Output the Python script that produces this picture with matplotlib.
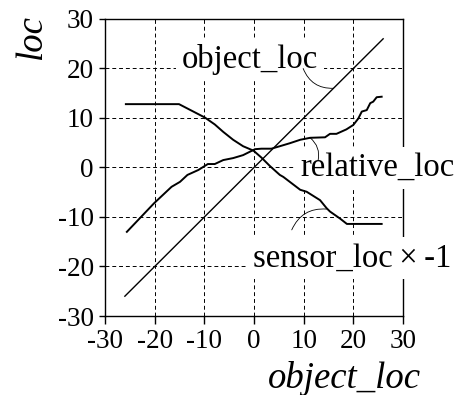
import numpy as np
import matplotlib

matplotlib.use("Agg")
import matplotlib.pyplot as plt

plt.rcParams["font.family"] = ["Liberation Serif", "DejaVu Serif"]
plt.rcParams["axes.unicode_minus"] = False

# object position sweeps linearly
object_x = [-26, 26]
object_y = [-26, 26]

# relative location (traced along object_loc)
relative_x = [-25.6, -20.1, -16.6, -14.9, -13.4, -11.2, -9.3, -7.9, -6.2, -4.2,
              -2.2, 0.2, 1.5, 3.5, 5.2, 7.2, 9.3, 11.3, 14.3, 15.3, 16.6, 18.6,
              20.0, 21.0, 21.7, 22.7, 23.4, 24.0, 24.7, 25.7]
relative_y = [-13.0, -7.2, -3.9, -2.9, -1.5, -0.5, 0.7, 0.7, 1.5, 1.9,
              2.5, 3.7, 3.8, 3.8, 4.3, 4.9, 5.6, 6.0, 6.1, 6.8, 6.8, 7.7,
              8.6, 9.9, 11.3, 11.6, 13.0, 13.3, 14.2, 14.3]

# sensor location, sign flipped
sensor_x = [-25.8, -15.1, -9.9, -7.9, -6.2, -4.2, -2.2, -0.1, 1.5, 3.2,
            5.2, 5.9, 9.3, 10.6, 13.3, 14.6, 15.3, 17.3, 18.7, 25.7]
sensor_y = [12.8, 12.8, 10.1, 8.7, 7.2, 5.6, 4.3, 3.4, 2.0, 0.3,
            -1.5, -1.9, -4.5, -4.9, -6.6, -8.2, -8.9, -10.3, -11.4, -11.4]

ticks = [-30, -20, -10, 0, 10, 20, 30]

fig = plt.figure(figsize=(4.65, 3.95), dpi=100)
ax = fig.add_axes([0.2258, 0.2, 0.6409, 0.7519])

# curves sit above the label boxes, the boxes only mask grid and frame
ax.plot(object_x, object_y, color="black", lw=1.0, zorder=3.5)
ax.plot(relative_x, relative_y, color="black", lw=1.4, zorder=3.5)
ax.plot(sensor_x, sensor_y, color="black", lw=1.4, zorder=3.5)

ax.set_xlim(-30, 30)
ax.set_ylim(-30, 30)
ax.set_xticks(ticks)
ax.set_yticks(ticks)
ax.set_xticklabels([str(t) for t in ticks])
ax.set_yticklabels([str(t) for t in ticks])
ax.tick_params(axis="x", direction="out", length=6, width=1.0, labelsize=19.5, pad=3)
ax.tick_params(axis="y", direction="out", length=4, width=1.0, labelsize=19.5, pad=4)
ax.grid(True, color="black", lw=0.7, linestyle=(0, (4, 3)))
for sp in ax.spines.values():
    sp.set_linewidth(1.0)

box = dict(facecolor="white", edgecolor="none", pad=4)
ax.text(-0.8, 21.8, "object_loc", fontsize=23.5, ha="center", va="center", bbox=box, zorder=3)
ax.text(9.4, -0.1, "relative_loc", fontsize=23.5, ha="left", va="center", bbox=box, zorder=3)
ax.text(-0.3, -18.3, "sensor_loc\u2009\u00d7\u2009-1", fontsize=23.5, ha="left", va="center",
        bbox=box, zorder=3)

# leader lines from labels to curves
leader = dict(arrowstyle="-", color="black", lw=0.6, shrinkA=0, shrinkB=0)
ax.annotate("", xy=(16.0, 16.0), xytext=(9.9, 20.0),
            arrowprops=dict(leader, connectionstyle="arc3,rad=0.35"), zorder=4)
ax.annotate("", xy=(11.3, 6.0), xytext=(12.9, 1.4),
            arrowprops=dict(leader, connectionstyle="arc3,rad=0.3"), zorder=4)
ax.annotate("", xy=(14.6, -8.4), xytext=(7.6, -12.6),
            arrowprops=dict(leader, connectionstyle="arc3,rad=-0.35"), zorder=4)

ax.set_xlabel("object_loc", fontsize=26.5, style="italic", va="center")
ax.xaxis.set_label_coords(0.805, -0.21)
ax.set_ylabel("loc", fontsize=26.5, style="italic", va="center")
ax.yaxis.set_label_coords(-0.245, 0.939)

plt.savefig("out.png", dpi=100)
